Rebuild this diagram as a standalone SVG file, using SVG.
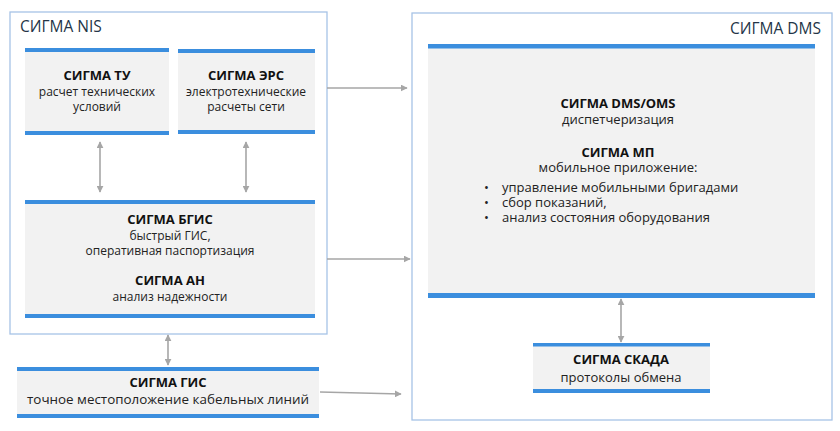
<svg xmlns="http://www.w3.org/2000/svg" width="840" height="431" viewBox="0 0 840 431">
<defs>
<style>
.cont{fill:#fff;stroke:#a7c3e6;stroke-width:1.3}
.box{fill:#f2f2f2}
.bar{fill:#3b8ede}
.ttl{font-family:"Open Sans","Liberation Sans",sans-serif;font-size:15.5px;fill:#243547}
.h{font-family:"Open Sans","Liberation Sans",sans-serif;font-size:13px;font-weight:bold;fill:#111;text-anchor:middle}
.t{font-family:"Open Sans","Liberation Sans",sans-serif;font-size:12px;fill:#222;text-anchor:middle}
.t13{font-family:"Open Sans","Liberation Sans",sans-serif;font-size:13px;fill:#222;text-anchor:middle}
.tl{font-family:"Open Sans","Liberation Sans",sans-serif;font-size:13px;fill:#222}
.conn{stroke:#a6a6a6;stroke-width:1.6;fill:none}
</style>
<marker id="ah" viewBox="0 0 10 10" refX="9" refY="5" markerWidth="7" markerHeight="7" markerUnits="userSpaceOnUse" orient="auto-start-reverse">
<path d="M0,0 L10,5 L0,10 Z" fill="#a6a6a6"/>
</marker>
</defs>
<rect width="840" height="431" fill="#fff"/>

<g id="nis">
<rect class="cont" x="10" y="12" width="317" height="322"/>
<text class="ttl" x="20" y="32">СИГМА NIS</text>
</g>

<g id="dms">
<rect class="cont" x="412" y="13" width="420" height="407"/>
<text class="ttl" x="821" y="34" text-anchor="end">СИГМА DMS</text>
</g>

<g id="tu">
<rect class="box" x="25" y="48" width="144" height="87"/>
<rect class="bar" x="25" y="48" width="144" height="4"/>
<rect class="bar" x="25" y="131" width="144" height="4"/>
<text class="h" x="97" y="80">СИГМА ТУ</text>
<text class="t" x="97" y="96">расчет технических<tspan x="97" dy="15">условий</tspan></text>
</g>

<g id="ers">
<rect class="box" x="178" y="49" width="137" height="85"/>
<rect class="bar" x="178" y="49" width="137" height="4"/>
<rect class="bar" x="178" y="130" width="137" height="4"/>
<text class="h" x="246" y="80">СИГМА ЭРС</text>
<text class="t" x="246" y="96">электротехнические<tspan x="246" dy="15">расчеты сети</tspan></text>
</g>

<g id="bgis">
<rect class="box" x="25" y="200" width="290" height="118"/>
<rect class="bar" x="25" y="200" width="290" height="4"/>
<rect class="bar" x="25" y="314" width="290" height="4"/>
<text class="h" x="170" y="224">СИГМА БГИС</text>
<text class="t" x="170" y="240">быстрый ГИС,<tspan x="170" dy="15">оперативная паспортизация</tspan></text>
<text class="h" x="170" y="285">СИГМА АН</text>
<text class="t" x="170" y="301">анализ надежности</text>
</g>

<g id="gis">
<rect class="box" x="17" y="367" width="302" height="51"/>
<rect class="bar" x="17" y="367" width="302" height="4"/>
<rect class="bar" x="17" y="414" width="302" height="4"/>
<text class="h" x="168" y="387">СИГМА ГИС</text>
<text class="t13" x="168" y="404" style="font-size:13.4px">точное местоположение кабельных линий</text>
</g>

<g id="dmsoms">
<rect class="box" x="428" y="44" width="387" height="254"/>
<rect class="bar" x="428" y="44" width="387" height="4.5"/>
<rect class="bar" x="428" y="293" width="387" height="5"/>
<text class="h" x="618" y="108">СИГМА DMS/OMS</text>
<text class="t13" x="618" y="124">диспетчеризация</text>
<text class="h" x="618" y="157">СИГМА МП</text>
<text class="t13" x="618" y="172">мобильное приложение:</text>
<text class="tl"><tspan x="484" y="192">•</tspan><tspan x="502" y="192">управление мобильными бригадами</tspan><tspan x="484" y="207">•</tspan><tspan x="502" y="207">сбор показаний,</tspan><tspan x="484" y="222">•</tspan><tspan x="502" y="222">анализ состояния оборудования</tspan></text>
</g>

<g id="scada">
<rect class="box" x="533" y="343" width="177" height="50"/>
<rect class="bar" x="533" y="343" width="177" height="3.5"/>
<rect class="bar" x="533" y="389" width="177" height="4"/>
<text class="h" x="621" y="364">СИГМА СКАДА</text>
<text class="t13" x="621" y="382">протоколы обмена</text>
</g>

<g id="connectors">
<line class="conn" x1="100" y1="142" x2="100" y2="192" marker-start="url(#ah)" marker-end="url(#ah)"/>
<line class="conn" x1="246" y1="142" x2="246" y2="192" marker-start="url(#ah)" marker-end="url(#ah)"/>
<line class="conn" x1="168" y1="335" x2="168" y2="365" marker-start="url(#ah)" marker-end="url(#ah)"/>
<line class="conn" x1="621" y1="299" x2="621" y2="342" marker-start="url(#ah)" marker-end="url(#ah)"/>
<line class="conn" x1="327" y1="88" x2="407" y2="88" marker-end="url(#ah)"/>
<line class="conn" x1="327" y1="259" x2="410" y2="259" marker-end="url(#ah)"/>
<line class="conn" x1="320" y1="392" x2="401" y2="394" marker-end="url(#ah)"/>
</g>
</svg>
